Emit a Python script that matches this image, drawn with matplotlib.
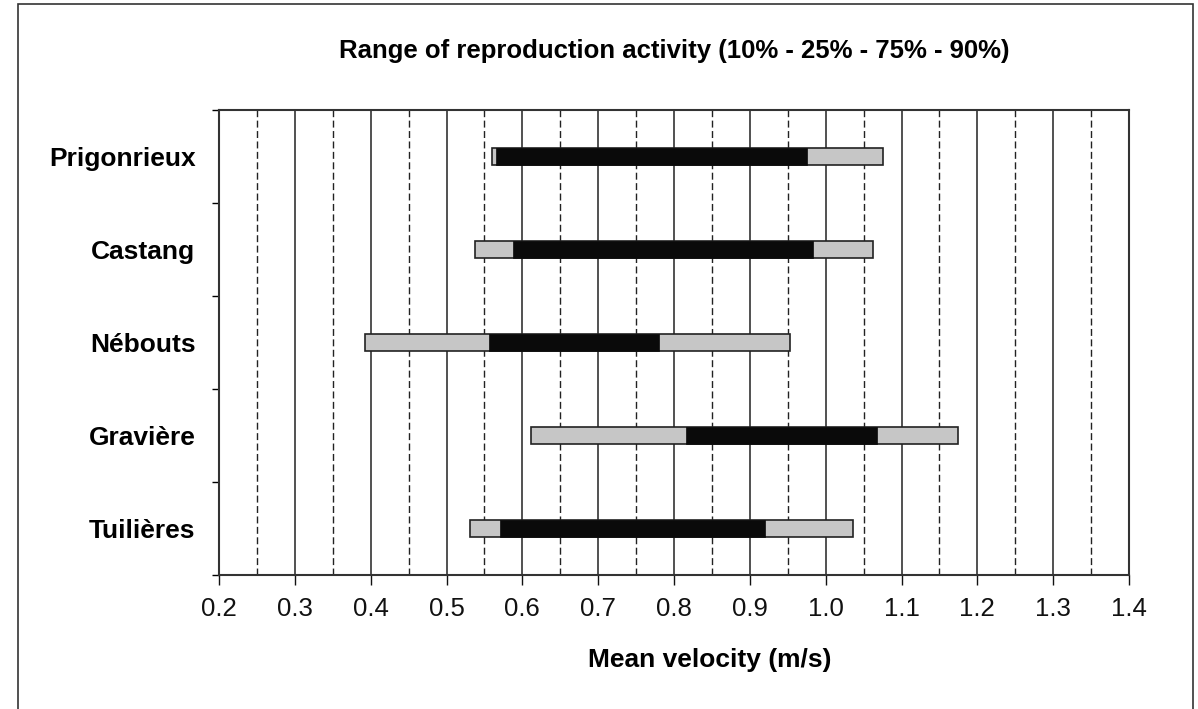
import matplotlib

matplotlib.use("Agg")
import matplotlib.pyplot as plt
from matplotlib.patches import Rectangle
import numpy as np

plt.rcParams["font.family"] = ["Liberation Sans", "DejaVu Sans"]

# Sites, top to bottom
sites = ["Prigonrieux", "Castang", "Nébouts", "Gravière", "Tuilières"]

# Percentiles of mean velocity (m/s)
p10 = [0.560, 0.537, 0.393, 0.612, 0.531]
p25 = [0.565, 0.588, 0.556, 0.816, 0.570]
p75 = [0.975, 0.983, 0.780, 1.068, 0.920]
p90 = [1.076, 1.062, 0.953, 1.174, 1.036]

major_ticks = np.round(np.arange(0.2, 1.41, 0.1), 2)
minor_ticks = np.round(np.arange(0.25, 1.4, 0.1), 2)
tick_labels = [f"{t:.1f}" for t in major_ticks]

fig = plt.figure(figsize=(11.98, 7.09), dpi=100)
ax = fig.add_axes([219 / 1198, 1 - 575 / 709, (1129 - 219) / 1198, (575 - 110) / 709])

# outer frame around the whole chart
fig.patches.append(
    Rectangle((18 / 1198, -0.05), (1193 - 18) / 1198, 1.05 - 4 / 709,
              transform=fig.transFigure, fill=False, edgecolor="#333333",
              linewidth=1.2, zorder=0)
)

# vertical grid
for t in major_ticks:
    ax.axvline(t, color="#222222", linewidth=1.1, zorder=1)
for t in minor_ticks:
    ax.axvline(t, color="#222222", linewidth=1.0, linestyle=(0, (5, 2.5)), zorder=1)

y = np.arange(len(sites))
h = 0.18
ax.barh(y, np.subtract(p90, p10), left=p10, height=h, color="#c6c6c6",
        edgecolor="#222222", linewidth=1.2, zorder=3)
ax.barh(y, np.subtract(p75, p25), left=p25, height=h, color="#0a0a0a",
        edgecolor="#0a0a0a", linewidth=0.5, zorder=4)

ax.set_xlim(0.2, 1.4)
ax.set_ylim(len(sites) - 0.5, -0.5)
ax.set_xticks(major_ticks)
ax.set_xticklabels(tick_labels, fontsize=18.5)
ax.tick_params(axis="x", length=7, width=1, pad=9, colors="#111111")

ax.set_yticks(y)
ax.set_yticklabels(sites, fontsize=19, fontweight="bold")
ax.tick_params(axis="y", which="major", length=0, pad=17)
ax.set_yticks(np.arange(-0.5, len(sites) + 0.5, 1), minor=True)
ax.tick_params(axis="y", which="minor", length=5, width=1)

for s in ax.spines.values():
    s.set_linewidth(1.5)
    s.set_color("#333333")

ax.set_xlabel("Mean velocity (m/s)", fontsize=19, fontweight="bold")
ax.xaxis.set_label_coords(0.5396, -0.158)
fig.text(674 / 1198, 1 - 51 / 709, "Range of reproduction activity (10% - 25% - 75% - 90%)",
         ha="center", va="center", fontsize=18.5, fontweight="bold")

fig.savefig("out.png", dpi=100)
